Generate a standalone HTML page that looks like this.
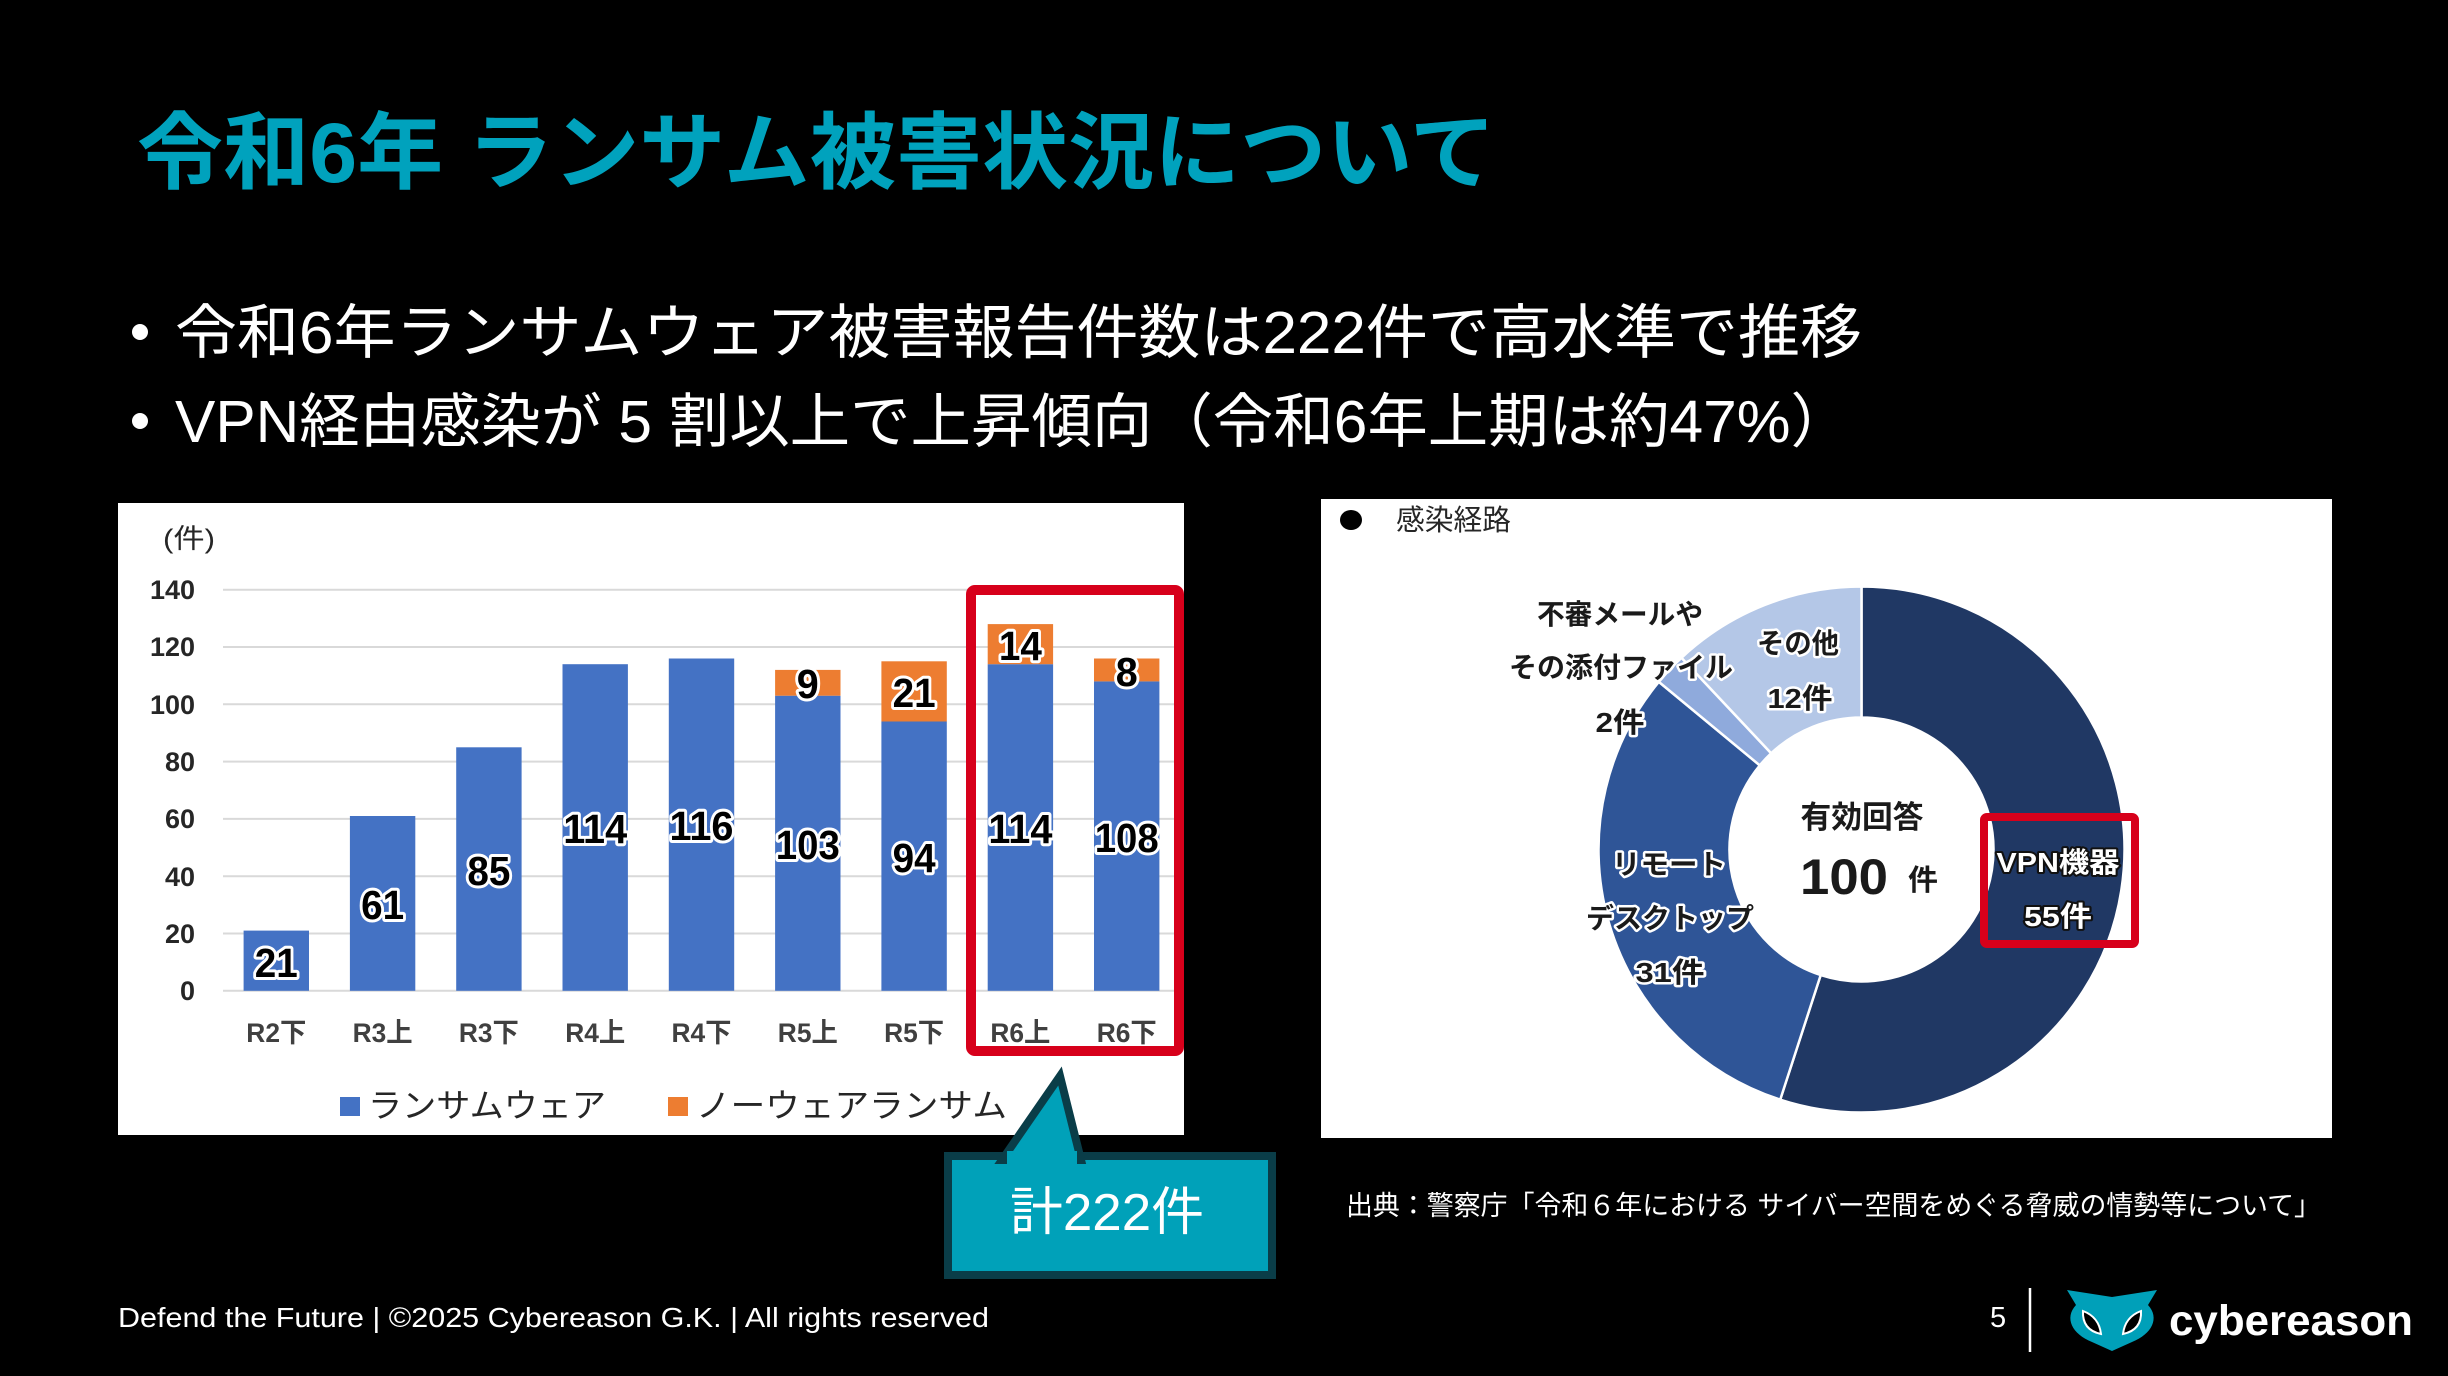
<!DOCTYPE html>
<html>
<head>
<meta charset="utf-8">
<style>
html,body{margin:0;padding:0;background:#000;}
svg{display:block;}
text{font-family:"Liberation Sans","Noto Sans CJK JP",sans-serif;}
</style>
</head>
<body>
<svg width="2448" height="1376" viewBox="0 0 2448 1376" xmlns="http://www.w3.org/2000/svg">
<rect x="0" y="0" width="2448" height="1376" fill="#000"/>

<!-- Title -->
<text x="137" y="182" font-size="84" font-weight="700" fill="#00a2bd" textLength="1359" lengthAdjust="spacingAndGlyphs">令和6年 ランサム被害状況について</text>

<!-- Bullets -->
<circle cx="140" cy="332" r="8" fill="#fff"/>
<text x="175" y="353" font-size="59" fill="#fff" textLength="1687" lengthAdjust="spacingAndGlyphs">令和6年ランサムウェア被害報告件数は222件で高水準で推移</text>
<circle cx="140" cy="421" r="8" fill="#fff"/>
<text x="175" y="442" font-size="59" fill="#fff" textLength="1676" lengthAdjust="spacingAndGlyphs">VPN経由感染が 5 割以上で上昇傾向（令和6年上期は約47%）</text>

<!-- Left chart panel -->
<rect x="118" y="503" width="1066" height="632" fill="#fff"/>
<text x="163" y="548" font-size="27" fill="#262626" textLength="52" lengthAdjust="spacingAndGlyphs">(件)</text>

<g stroke="#d9d9d9" stroke-width="2">
<line x1="223" y1="589.7" x2="1180" y2="589.7"/>
<line x1="223" y1="647.0" x2="1180" y2="647.0"/>
<line x1="223" y1="704.3" x2="1180" y2="704.3"/>
<line x1="223" y1="761.6" x2="1180" y2="761.6"/>
<line x1="223" y1="818.9" x2="1180" y2="818.9"/>
<line x1="223" y1="876.2" x2="1180" y2="876.2"/>
<line x1="223" y1="933.5" x2="1180" y2="933.5"/>
<line x1="223" y1="990.8" x2="1180" y2="990.8"/>
</g>
<g font-size="27" font-weight="700" fill="#262626" text-anchor="end">
<text x="195" y="599">140</text>
<text x="195" y="656">120</text>
<text x="195" y="714">100</text>
<text x="195" y="771">80</text>
<text x="195" y="828">60</text>
<text x="195" y="886">40</text>
<text x="195" y="943">20</text>
<text x="195" y="1000">0</text>
</g>

<!-- bars blue -->
<g fill="#4472c4">
<rect x="243.6" y="930.6" width="65.4" height="60.2"/>
<rect x="349.9" y="816.0" width="65.4" height="174.8"/>
<rect x="456.2" y="747.3" width="65.4" height="243.5"/>
<rect x="562.5" y="664.2" width="65.4" height="326.6"/>
<rect x="668.8" y="658.5" width="65.4" height="332.3"/>
<rect x="775.1" y="695.7" width="65.4" height="295.1"/>
<rect x="881.4" y="721.5" width="65.4" height="269.3"/>
<rect x="987.7" y="664.2" width="65.4" height="326.6"/>
<rect x="1094.0" y="681.4" width="65.4" height="309.4"/>
</g>
<!-- bars orange -->
<g fill="#ed7d31">
<rect x="775.1" y="669.9" width="65.4" height="25.8"/>
<rect x="881.4" y="661.3" width="65.4" height="60.2"/>
<rect x="987.7" y="624.1" width="65.4" height="40.1"/>
<rect x="1094.0" y="658.5" width="65.4" height="22.9"/>
</g>

<!-- data labels -->
<g font-size="41" font-weight="700" fill="#000" stroke="#fff" stroke-width="6" stroke-linejoin="round" paint-order="stroke" text-anchor="middle" lengthAdjust="spacingAndGlyphs">
<text x="276.3" y="977" textLength="43" lengthAdjust="spacingAndGlyphs">21</text>
<text x="382.6" y="919" textLength="43" lengthAdjust="spacingAndGlyphs">61</text>
<text x="488.9" y="885" textLength="43" lengthAdjust="spacingAndGlyphs">85</text>
<text x="595.2" y="843" textLength="64" lengthAdjust="spacingAndGlyphs">114</text>
<text x="701.5" y="840" textLength="64" lengthAdjust="spacingAndGlyphs">116</text>
<text x="807.8" y="859" textLength="64" lengthAdjust="spacingAndGlyphs">103</text>
<text x="914.1" y="872" textLength="43" lengthAdjust="spacingAndGlyphs">94</text>
<text x="1020.4" y="843" textLength="64" lengthAdjust="spacingAndGlyphs">114</text>
<text x="1126.7" y="852" textLength="64" lengthAdjust="spacingAndGlyphs">108</text>
<text x="807.8" y="698" textLength="22" lengthAdjust="spacingAndGlyphs">9</text>
<text x="914.1" y="707" textLength="43" lengthAdjust="spacingAndGlyphs">21</text>
<text x="1020.4" y="660" textLength="43" lengthAdjust="spacingAndGlyphs">14</text>
<text x="1126.7" y="686" textLength="22" lengthAdjust="spacingAndGlyphs">8</text>
</g>

<!-- x labels -->
<g font-size="27" font-weight="700" fill="#404040" text-anchor="middle">
<text x="276.3" y="1042" textLength="60" lengthAdjust="spacingAndGlyphs">R2下</text>
<text x="382.6" y="1042" textLength="60" lengthAdjust="spacingAndGlyphs">R3上</text>
<text x="488.9" y="1042" textLength="60" lengthAdjust="spacingAndGlyphs">R3下</text>
<text x="595.2" y="1042" textLength="60" lengthAdjust="spacingAndGlyphs">R4上</text>
<text x="701.5" y="1042" textLength="60" lengthAdjust="spacingAndGlyphs">R4下</text>
<text x="807.8" y="1042" textLength="60" lengthAdjust="spacingAndGlyphs">R5上</text>
<text x="914.1" y="1042" textLength="60" lengthAdjust="spacingAndGlyphs">R5下</text>
<text x="1020.4" y="1042" textLength="60" lengthAdjust="spacingAndGlyphs">R6上</text>
<text x="1126.7" y="1042" textLength="60" lengthAdjust="spacingAndGlyphs">R6下</text>
</g>

<!-- legend -->
<rect x="340" y="1097" width="20" height="19" fill="#4472c4"/>
<text x="368" y="1117" font-size="33" fill="#262626" textLength="238" lengthAdjust="spacingAndGlyphs">ランサムウェア</text>
<rect x="668" y="1097" width="20" height="19" fill="#ed7d31"/>
<text x="696" y="1117" font-size="33" fill="#262626" textLength="311" lengthAdjust="spacingAndGlyphs">ノーウェアランサム</text>

<!-- red highlight box -->
<rect x="971" y="590" width="208" height="461" fill="none" stroke="#d7001b" stroke-width="10" rx="4"/>

<!-- callout -->
<rect x="948" y="1156" width="324" height="119" fill="#00a1b9" stroke="#0a3d48" stroke-width="8"/>
<polygon points="1002,1160 1060,1076 1081,1160" fill="#00a1b9" stroke="#0a3d48" stroke-width="8" stroke-linejoin="miter"/>
<rect x="1007" y="1151" width="70" height="14" fill="#00a1b9"/>
<text x="1010" y="1230" font-size="52" fill="#fff" textLength="194" lengthAdjust="spacingAndGlyphs">計222件</text>

<!-- Right panel -->
<rect x="1321" y="499" width="1011" height="639" fill="#fff"/>
<ellipse cx="1351" cy="520" rx="11" ry="10" fill="#000"/>
<text x="1396" y="530" font-size="29" fill="#262626" textLength="115" lengthAdjust="spacingAndGlyphs">感染経路</text>

<!-- donut -->
<g stroke="#fff" stroke-width="2.5" stroke-linejoin="round">
<path d="M1861.5,586.5 A263,263 0 1,1 1780.23,1099.63 L1820.71,975.04 A132,132 0 1,0 1861.5,717.5 Z" fill="#203864"/>
<path d="M1780.23,1099.63 A263,263 0 0,1 1658.86,681.86 L1759.79,765.36 A132,132 0 0,0 1820.71,975.04 Z" fill="#2f5597"/>
<path d="M1658.86,681.86 A263,263 0 0,1 1681.46,657.78 L1771.14,753.28 A132,132 0 0,0 1759.79,765.36 Z" fill="#8faadc"/>
<path d="M1681.46,657.78 A263,263 0 0,1 1861.5,586.5 L1861.5,717.5 A132,132 0 0,0 1771.14,753.28 Z" fill="#b4c7e7"/>
</g>

<!-- donut labels -->
<g font-size="28" font-weight="700" fill="#1a1a1a" stroke="#fff" stroke-width="5" stroke-linejoin="round" paint-order="stroke" text-anchor="middle">
<text x="1620" y="624" textLength="166" lengthAdjust="spacingAndGlyphs">不審メールや</text>
<text x="1621" y="677" textLength="224" lengthAdjust="spacingAndGlyphs">その添付ファイル</text>
<text x="1620" y="732" textLength="49" lengthAdjust="spacingAndGlyphs">2件</text>
<text x="1798" y="653" textLength="82" lengthAdjust="spacingAndGlyphs">その他</text>
<text x="1800" y="708" textLength="65" lengthAdjust="spacingAndGlyphs">12件</text>
<text x="1669" y="874" textLength="114" lengthAdjust="spacingAndGlyphs">リモート</text>
<text x="1670" y="928" textLength="168" lengthAdjust="spacingAndGlyphs">デスクトップ</text>
<text x="1670" y="982" textLength="69" lengthAdjust="spacingAndGlyphs">31件</text>
</g>
<g font-size="28" font-weight="700" fill="#fff" stroke="#111" stroke-width="4" stroke-linejoin="round" paint-order="stroke" text-anchor="middle">
<text x="2058" y="872" textLength="123" lengthAdjust="spacingAndGlyphs">VPN機器</text>
<text x="2058" y="926" textLength="68" lengthAdjust="spacingAndGlyphs">55件</text>
</g>
<text x="1862" y="828" font-size="31" font-weight="700" fill="#1a1a1a" text-anchor="middle" textLength="123" lengthAdjust="spacingAndGlyphs">有効回答</text>
<text x="1800" y="894" font-size="50" font-weight="700" fill="#1a1a1a" textLength="88" lengthAdjust="spacingAndGlyphs">100</text>
<text x="1908" y="890" font-size="29" font-weight="700" fill="#1a1a1a" textLength="30" lengthAdjust="spacingAndGlyphs">件</text>

<rect x="1984" y="817" width="151" height="127" fill="none" stroke="#d7001b" stroke-width="8" rx="3"/>

<!-- source -->
<text x="1346" y="1215" font-size="27" fill="#fff" textLength="975" lengthAdjust="spacingAndGlyphs">出典：警察庁「令和６年における サイバー空間をめぐる脅威の情勢等について」</text>

<!-- footer -->
<text x="118" y="1327" font-size="28" fill="#fff" textLength="871" lengthAdjust="spacingAndGlyphs">Defend the Future | ©2025 Cybereason G.K. | All rights reserved</text>
<text x="1990" y="1327" font-size="29" fill="#fff">5</text>
<line x1="2030" y1="1288" x2="2030" y2="1352" stroke="#fff" stroke-width="2.5"/>

<!-- logo -->
<path d="M2067,1290 L2112,1297 L2157,1290 L2148,1305 C2160,1318 2152,1334 2132,1342 L2112,1351 L2092,1342 C2072,1334 2064,1318 2076,1305 Z" fill="#00a0b9"/>
<path d="M2083,1311 Q2082,1330 2101,1334 Q2099,1317 2083,1311 Z" fill="#000" stroke="#fff" stroke-width="2"/>
<path d="M2141,1311 Q2142,1330 2123,1334 Q2125,1317 2141,1311 Z" fill="#000" stroke="#fff" stroke-width="2"/>
<text x="2169" y="1335" font-size="43" font-weight="700" fill="#fff" textLength="244" lengthAdjust="spacingAndGlyphs">cybereason</text>
</svg>
</body>
</html>
